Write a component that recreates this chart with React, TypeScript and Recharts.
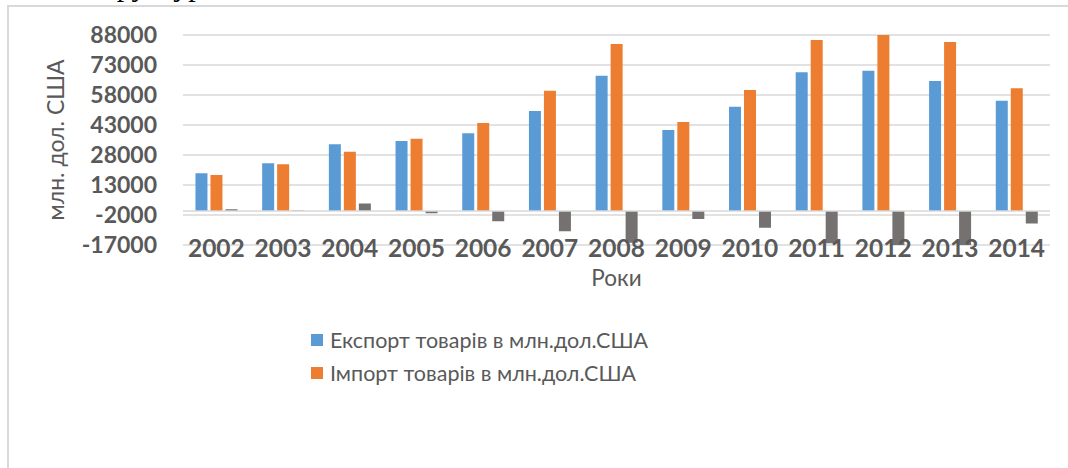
import React from "react";
import {
  BarChart,
  Bar,
  XAxis,
  YAxis,
  CartesianGrid,
  Legend,
  Label,
  ReferenceLine,
} from "recharts";

const years = ["2002", "2003", "2004", "2005", "2006", "2007", "2008", "2009", "2010", "2011", "2012", "2013", "2014"];
const exportValues = [18850, 23850, 33350, 35000, 38850, 50000, 67650, 40500, 52150, 69350, 70150, 65000, 55150];
const importValues = [18000, 23350, 29650, 36150, 44000, 60150, 83500, 44500, 60500, 85500, 88000, 84500, 61350];
const balanceValues = [850, 300, 3700, -1150, -5150, -10150, -15850, -4000, -8350, -16150, -17850, -19500, -6200];
const yTicks = [-17000, -2000, 13000, 28000, 43000, 58000, 73000, 88000];

const exportName = "Експорт товарів в млн.дол.США";
const importName = "Імпорт товарів в млн.дол.США";

const data = years.map((y, i) => ({
  year: y,
  exp: exportValues[i],
  imp: importValues[i],
  bal: balanceValues[i],
}));

const TEXT = "#595959";
const FONT = "Lato, 'Open Sans', sans-serif";

const XTick = (props: any) => (
  <text
    x={props.x}
    y={props.y + 11.5}
    textAnchor="middle"
    fill={TEXT}
    fontSize={24.5}
    fontWeight={700}
    fontFamily={FONT}
  >
    {props.payload.value}
  </text>
);

const YTitle = (props: any) => {
  const vb = props.viewBox;
  const cx = 64;
  const cy = vb.y + vb.height / 2;
  return (
    <text
      x={cx}
      y={cy}
      transform={`rotate(-90 ${cx} ${cy})`}
      textAnchor="middle"
      fill={TEXT}
      fontSize={23}
      fontFamily={FONT}
    >
      млн. дол. США
    </text>
  );
};

const XTitle = (props: any) => {
  const vb = props.viewBox;
  return (
    <text x={vb.x + vb.width / 2} y={286} textAnchor="middle" fill={TEXT} fontSize={22.5} fontFamily={FONT}>
      Роки
    </text>
  );
};

const LegendBox = () => (
  <div style={{ fontFamily: FONT, fontSize: 21.5, color: TEXT }}>
    {[
      { name: exportName, color: "#5B9BD5" },
      { name: importName, color: "#ED7D31" },
    ].map((it) => (
      <div key={it.name} style={{ display: "flex", alignItems: "center", height: 32.6 }}>
        <span style={{ width: 12, height: 12, background: it.color, marginRight: 7, display: "inline-block" }} />
        <span>{it.name}</span>
      </div>
    ))}
  </div>
);

export default function App() {
  return (
    <div
      style={{
        position: "absolute",
        left: 0,
        top: 0,
        width: 1068,
        height: 468,
        overflow: "hidden",
        background: "#fff",
      }}
    >
      {/* tail of the document text above the chart frame */}
      <div style={{ position: "absolute", left: 0, top: 0, width: 400, height: 5, overflow: "hidden" }}>
        <div
          style={{
            position: "absolute",
            left: 90,
            top: -29,
            fontFamily: "'Liberation Serif', serif",
            fontSize: 30,
            lineHeight: 1,
            color: "#000",
            whiteSpace: "nowrap",
          }}
        >
          структура
        </div>
      </div>
      <div
        style={{
          position: "absolute",
          left: 7,
          top: 5,
          width: 1100,
          height: 500,
          borderLeft: "2px solid #d9d9d9",
          borderTop: "2px solid #d9d9d9",
        }}
      />
      <div style={{ position: "absolute", left: 0, top: 0 }}>
        <BarChart
          width={1068}
          height={468}
          data={data}
          margin={{ top: 35, right: 18, left: 0, bottom: 173 }}
          barCategoryGap="18.7%"
          barGap={3}
        >
          <CartesianGrid vertical={false} stroke="#d9d9d9" strokeWidth={1.5} />
          <XAxis
            dataKey="year"
            axisLine={false}
            tickLine={false}
            tickSize={0}
            tickMargin={0}
            interval={0}
            height={50}
            tick={<XTick />}
          >
            <Label content={<XTitle />} />
          </XAxis>
          <YAxis
            width={183}
            domain={[-17000, 88000]}
            ticks={yTicks}
            allowDataOverflow
            interval={0}
            axisLine={false}
            tickLine={false}
            tickSize={0}
            tickMargin={26}
            tick={{ fill: TEXT, fontSize: 23, fontWeight: 700, fontFamily: FONT }}
          >
            <Label content={<YTitle />} />
          </YAxis>
          <ReferenceLine y={0} stroke="#d9d9d9" strokeWidth={1.5} />
          <Bar dataKey="exp" name={exportName} fill="#5B9BD5" isAnimationActive={false} />
          <Bar dataKey="imp" name={importName} fill="#ED7D31" isAnimationActive={false} />
          <Bar dataKey="bal" name="Сальдо" fill="#767171" legendType="none" isAnimationActive={false} />
          <Legend
            layout="vertical"
            align="center"
            verticalAlign="middle"
            content={<LegendBox />}
            wrapperStyle={{ left: 311, top: 324, width: 440 }}
          />
        </BarChart>
      </div>
    </div>
  );
}
